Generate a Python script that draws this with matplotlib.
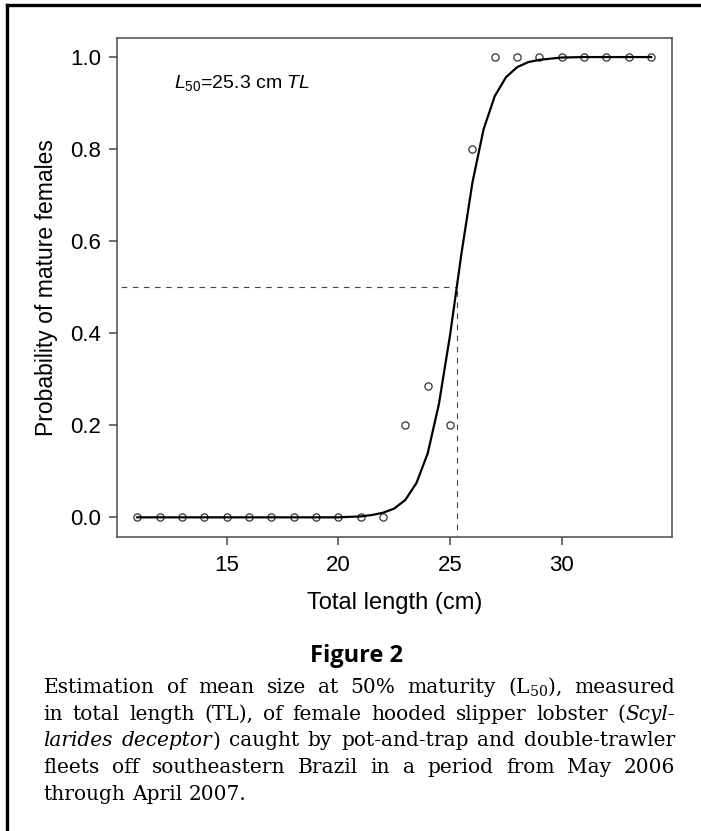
import matplotlib

matplotlib.use("Agg")
import matplotlib.pyplot as plt
from matplotlib.lines import Line2D

# Maturity ogive of female Scyllarides deceptor
LENGTHS = [11, 12, 13, 14, 15, 16, 17, 18, 19, 20, 21, 22, 23, 24, 25, 26, 27, 28, 29, 30, 31, 32, 33, 34]
PROP_MATURE = [0, 0, 0, 0, 0, 0, 0, 0, 0, 0, 0, 0, 0.2, 0.2857, 0.2, 0.8, 1, 1, 1, 1, 1, 1, 1, 1]

# fitted logistic curve
CURVE_X = [11, 20, 20.5, 21, 21.5, 22, 22.5, 23, 23.5, 24, 24.5, 25, 25.3, 25.5, 26,
           26.5, 27, 27.5, 28, 28.5, 29, 30, 31, 34]
CURVE_Y = [0, 0, 0.001, 0.002, 0.005, 0.010, 0.019, 0.038, 0.075, 0.139, 0.246, 0.396, 0.5,
           0.570, 0.727, 0.843, 0.915, 0.956, 0.978, 0.989, 0.994, 0.999, 1.0, 1.0]

L50 = 25.3
X_TICKS = [15, 20, 25, 30]
Y_TICKS = [0.0, 0.2, 0.4, 0.6, 0.8, 1.0]

# caption, one string per printed line; "|...|" marks italic pieces
CAPTION = [
    "Estimation of mean size at 50% maturity (L$_{50}$), measured",
    "in total length (TL), of female hooded slipper lobster (|Scyl-|",
    "|larides| |deceptor|) caught by pot-and-trap and double-trawler",
    "fleets off southeastern Brazil in a period from May 2006",
    "through April 2007.",
]

SANS = "Liberation Sans"
SERIF = "DejaVu Serif"
plt.rcParams["font.family"] = SANS
plt.rcParams["mathtext.fontset"] = "custom"
plt.rcParams["mathtext.rm"] = SANS
plt.rcParams["mathtext.it"] = SANS + ":italic"

AX_COLOR = "#4a4a4a"


def split_word(word):
    parts = []
    for i, piece in enumerate(word.split("|")):
        if piece:
            parts.append((piece, "italic" if i % 2 else "normal"))
    return parts


def draw_caption(fig, lines, x0, x1, y0, step, size):
    # lays the caption out word by word so the lines come out justified
    renderer = fig.canvas.get_renderer()
    W, H = fig.bbox.width, fig.bbox.height
    for i, line in enumerate(lines):
        y = 1 - (y0 + i * step) / H
        words = []
        for word in line.split(" "):
            texts = [
                fig.text(0, y, seg, family=SERIF, style=style, fontsize=size,
                         va="baseline", ha="left", math_fontfamily="dejavuserif")
                for seg, style in split_word(word)
            ]
            words.append(texts)
        widths = [[t.get_window_extent(renderer).width for t in w] for w in words]
        total = sum(sum(w) for w in widths)
        if i < len(lines) - 1:
            gap = (x1 - x0 - total) / (len(words) - 1)
        else:
            gap = size * 100 / 72 * 0.32
        x = x0
        for texts, ws in zip(words, widths):
            for t, w in zip(texts, ws):
                t.set_x(x / W)
                x += w
            x += gap


fig = plt.figure(figsize=(7.01, 8.31), dpi=100)
ax = fig.add_axes([0.1665, 0.3542, 0.7917, 0.6004])

ax.plot(CURVE_X, CURVE_Y, color="black", lw=1.6, zorder=3, solid_joinstyle="round")
ax.plot(LENGTHS, PROP_MATURE, ls="none", marker="o", ms=5.2, mfc="none",
        mec="#333333", mew=0.9, zorder=2)
ax.plot([0, L50], [0.5, 0.5], color="#444444", lw=0.8, ls=(0, (5, 5)))
ax.plot([L50, L50], [-0.1, 0.5], color="#444444", lw=0.8, ls=(0, (5, 5)))

ax.set_xlim(10.08, 34.92)
ax.set_ylim(-0.042, 1.042)
ax.set_xticks(X_TICKS)
ax.set_yticks(Y_TICKS)
ax.set_yticklabels([f"{v:.1f}" for v in Y_TICKS])
for spine in ax.spines.values():
    spine.set_color(AX_COLOR)
    spine.set_linewidth(1.1)
ax.tick_params(length=6, width=1.1, color=AX_COLOR, labelsize=16, labelcolor="black")
ax.tick_params(axis="x", pad=7)
ax.tick_params(axis="y", pad=5)
ax.set_xlabel("Total length (cm)", fontsize=17, labelpad=12)
ax.set_ylabel("Probability of mature females", fontsize=16.5, labelpad=9)

ax.text(12.66, 0.932, r"$L_{50}$=25.3 cm $TL$", fontsize=14, va="baseline", ha="left")

fig.text(357 / 701, 1 - 662 / 831, "Figure 2", fontsize=17, fontweight="bold",
         family="Open Sans", ha="center", va="baseline")
draw_caption(fig, CAPTION, 43.5, 675, 693, 26.75, 14.5)

# page frame (left and top edges of the printed box)
fig.add_artist(Line2D([7 / 701, 7 / 701], [0, 1 - 5 / 831], color="black", lw=2.4,
                      transform=fig.transFigure, solid_capstyle="projecting"))
fig.add_artist(Line2D([7 / 701, 1], [1 - 5 / 831, 1 - 5 / 831], color="black", lw=2.4,
                      transform=fig.transFigure, solid_capstyle="projecting"))

fig.savefig("out.png", dpi=100)
